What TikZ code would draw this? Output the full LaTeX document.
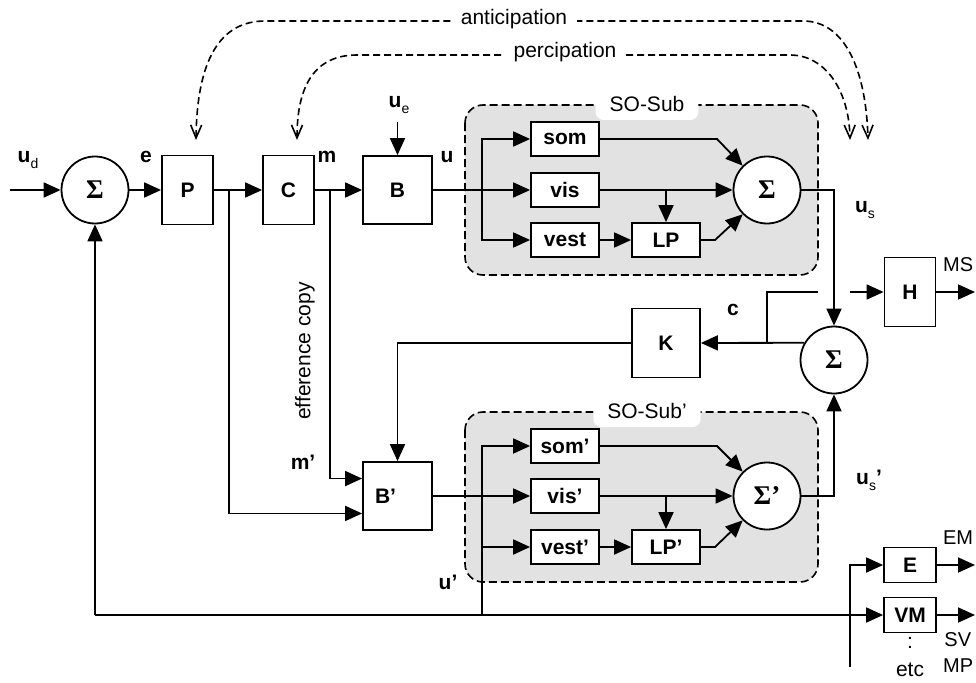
\documentclass[tikz,border=0pt]{standalone}
\usepackage{fontspec}
\setmainfont{Liberation Sans}
\newfontfamily\sigfont{Liberation Serif}
\usetikzlibrary{arrows.meta,calc}
\definecolor{sogray}{RGB}{226,226,226}
\newcommand\sbs[1]{\raisebox{-0.3em}{\fontsize{14}{14}\selectfont\mdseries #1}}
\begin{document}
\begin{tikzpicture}[x=1pt,y=-1pt,
  line width=1.8pt,
  every node/.style={font=\fontsize{21}{24}\selectfont},
  blk/.style={draw, fill=white, inner sep=0pt, font=\fontsize{21}{24}\selectfont\bfseries},
  sbox/.style={blk, minimum width=68pt, minimum height=34pt},
  sumc/.style={draw, circle, fill=white, minimum size=67pt, inner sep=0pt, font=\fontsize{27}{27}\selectfont\sigfont\bfseries},
  arr/.style={-{Triangle[length=17pt,width=15pt]}},
  dsh/.style={line width=1.6pt, dash pattern=on 7pt off 4pt},
  barb/.style={{Straight Barb[length=13pt,width=11pt]}-{Straight Barb[length=13pt,width=11pt]}},
  sobox/.style={draw, fill=sogray, line width=1.6pt, dash pattern=on 8pt off 4pt, rounded corners=18pt},
  tab/.style={fill=white, rounded corners=8pt, minimum height=32pt, inner xsep=14pt},
  bl/.style={font=\fontsize{21}{24}\selectfont\bfseries},
  outlab/.style={anchor=east, inner sep=0pt, font=\fontsize{20}{24}\selectfont}
]
\useasboundingbox (0,0) rectangle (976,682);

% subsystem frames
\draw[sobox] (465,105) rectangle (818,275);
\node[tab] at (647,104) {SO-Sub};
\draw[sobox] (465,412) rectangle (818,582);
\node[tab] at (647,411) {SO-Sub’};

% dashed feedforward curves
\draw[dsh, barb] (196,140) .. controls (197,60) and (220,21) .. (265,21) -- (803,21) .. controls (845,21) and (866,70) .. (868,140);
\node[fill=white, inner xsep=10pt] at (514,19) {anticipation};
\draw[dsh, barb] (297,140) .. controls (297,85) and (315,55) .. (357,55) -- (790,55) .. controls (825,55) and (849,90) .. (850,140);
\node[fill=white, inner xsep=10pt] at (565,52) {percipation};

% blocks
\node[sumc] (s1) at (95,190) {Σ};
\node[blk, minimum width=51pt, minimum height=69pt] (P) at (187.5,190) {P};
\node[blk, minimum width=51pt, minimum height=69pt] (C) at (288.5,190) {C};
\node[blk, minimum width=69pt, minimum height=68pt] (B) at (397.5,190) {B};
\node[blk, minimum width=69pt, minimum height=68pt, label={[xshift=-12pt,bl]center:B’}] (Bp) at (397.5,496) {};
\node[sbox] (som) at (565,139) {som};
\node[sbox] (vis) at (565,190) {vis};
\node[sbox] (vest) at (565,240) {vest};
\node[sbox] (LP) at (666,240) {LP};
\node[sumc] (sS) at (767,190) {Σ};
\node[sbox] (somp) at (565,446) {som’};
\node[sbox] (visp) at (565,496) {vis’};
\node[sbox] (vestp) at (565,547) {vest’};
\node[sbox] (LPp) at (666,547) {LP’};
\node[sumc] (sSp) at (767,496) {Σ’};
\node[blk, minimum width=68pt, minimum height=69pt] (K) at (666,343) {K};
\node[sumc] (s3) at (834,360) {Σ};
\node[blk, minimum width=51pt, minimum height=69pt] (H) at (910,292) {H};
\node[blk, minimum width=52pt, minimum height=35pt] (E) at (910,565) {E};
\node[blk, minimum width=52pt, minimum height=35pt] (VM) at (910,615) {VM};

% coordinates
\coordinate (in) at (10,190);
\coordinate (jP) at (229,190);
\coordinate (jm) at (330,190);
\coordinate (ue) at (397.5,122);
\coordinate (ju) at (482,190);
\coordinate (bend1) at (717,139);
\coordinate (bend2) at (715,240);
\coordinate (bend1p) at (717,446);
\coordinate (bend2p) at (715,547);
\coordinate (jc) at (767,343);
\coordinate (gapL) at (818,292);
\coordinate (gapR) at (850,292);
\coordinate (bl) at (95,615);
\coordinate (jup) at (482,615);
\coordinate (ve) at (850,667);
\coordinate (outH) at (975,292);
\coordinate (outE) at (975,565);
\coordinate (outVM) at (975,615);

% main path
\draw[arr] (in) -- (s1);
\draw[arr] (s1) -- (P);
\draw[arr] (P) -- (C);
\draw[arr] (C) -- (B);
\draw[arr] (ue) -- (B);
\draw[arr] (jP) |- ($(Bp.south west)!0.25!(Bp.north west)$);
\draw[arr] (jm) |- ($(Bp.south west)!0.75!(Bp.north west)$);

% SO-Sub
\draw (B.east) -- (ju);
\draw[arr] (ju) |- (som);
\draw[arr] (ju) |- (vest);
\draw[arr] (ju) -- (vis);
\draw[arr] (vest) -- (LP);
\draw[arr] (vis) -- (sS);
\draw[arr] (LP |- vis) -- (LP);
\draw[arr] (som.east) -- (bend1) -- (sS.135);
\draw[arr] (LP.east) -- (bend2) -- (sS.225);
\draw[arr] (sS.east) -| (s3);

% SO-Sub'
\draw[arr] (Bp) -- (visp);
\draw[arr] (jup) |- (somp);
\draw[arr] (jup |- vestp) -- (vestp);
\draw[arr] (vestp) -- (LPp);
\draw[arr] (visp) -- (sSp);
\draw[arr] (LPp |- visp) -- (LPp);
\draw[arr] (somp.east) -- (bend1p) -- (sSp.135);
\draw[arr] (LPp.east) -- (bend2p) -- (sSp.225);
\draw[arr] (sSp.east) -| (s3);

% comparator and outputs
\draw[arr] (s3.150) -- (K);
\draw[arr] (K) -| (Bp);
\draw (jc) |- (gapL);
\draw[arr] (gapR) -- (H);
\draw[arr] (H) -- (outH);
\draw[arr] (bl) -- (s1);
\draw[arr] (bl) -- (VM);
\draw[arr] (ve) |- (E);
\draw[arr] (E) -- (outE);
\draw[arr] (VM) -- (outVM);

% labels
\node at (28,160) {\textbf{u}\sbs{d}};
\node[bl] at (146,157) {e};
\node[bl] at (327,157) {m};
\node[bl] at (447,157) {u};
\node at (399,105) {\textbf{u}\sbs{e}};
\node at (865,210) {\textbf{u}\sbs{s}};
\node[bl] at (733,310) {c};
\node[bl] at (303,462) {m’};
\node[bl] at (448,582) {u’};
\node at (869,480) {\textbf{u}\sbs{s}\textbf{’}};
\node[rotate=90] at (305,351) {efference copy};
\node[outlab] at (974,265) {MS};
\node[outlab] at (974,538) {EM};
\node[outlab] at (972,640) {SV};
\node[outlab] at (974,666) {MP};
\node at (910,643) {:};
\node at (910,670) {etc};
\end{tikzpicture}
\end{document}
